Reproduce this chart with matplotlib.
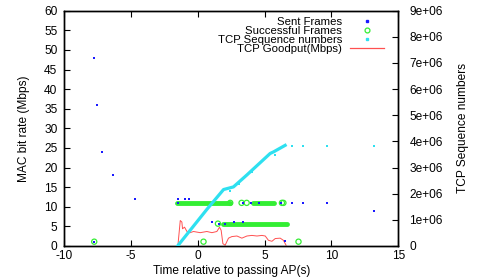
import matplotlib
matplotlib.use("Agg")
import matplotlib.pyplot as plt
from matplotlib.lines import Line2D

plt.rcParams['font.family'] = ['Liberation Sans', 'DejaVu Sans']

# ---- data ----
sent_t = [-7.76, -7.56, -7.16, -6.36, -4.72, -7.76, -1.52, -1.0, -0.7, -1.52,
          1.09, 1.6, 2.0, 2.7, 3.4, 3.4, 4.0, 4.6, 6.2, 7.04, 7.9, 9.66, 13.2, 6.53]
sent_rate = [48, 36, 24, 18, 12, 1, 12, 12, 12, 11,
             6.1, 5.7, 5.6, 6.1, 6.1, 11, 11, 11, 11, 11, 11, 11, 9.0, 1.2]

succ_t = [-7.76, 0.42, 7.53, 3.27, 3.65, 6.29, 6.4, 1.5, 2.42]
succ_rate = [1.1, 1.1, 1.1, 11, 11, 11, 11, 5.7, 11]

# dense runs of successful frames: (start, end, rate)
band_start = [-1.59, 4.16, 1.9]
band_end = [2.42, 5.66, 6.64]
band_rate = [11.0, 11.0, 5.6]

seq_t = [-1.52, 0.67, 1.92, 2.66, 3.65, 5.41, 5.66, 6.53]
seq_val = [0, 1.40e6, 2.16e6, 2.26e6, 2.71e6, 3.54e6, 3.60e6, 3.85e6]
seq_pts_t = [2.42, 3.04, 4.04, 5.76, 7.04, 7.9, 9.66, 13.2]
seq_pts_val = [2.11e6, 2.39e6, 2.83e6, 3.47e6, 3.81e6, 3.81e6, 3.81e6, 3.81e6]

good_t = [-1.5, -1.32, -1.2, -1.15, -1.0, -0.82, -0.58, -0.33, 0.17, 0.67, 1.05,
          1.42, 1.62, 1.74, 1.87, 2.04, 2.29, 2.54, 2.92, 3.29, 3.67, 4.04, 4.42,
          4.79, 5.04, 5.28, 5.54, 5.79, 6.16, 6.4, 6.6]
good_mbps = [0, 6.5, 6.1, 4.4, 4.8, 3.7, 3.4, 3.7, 3.4, 3.7, 3.4,
             3.7, 4.8, 4.0, 0.6, 0.2, 2.0, 2.4, 2.55, 2.0, 2.55, 2.7, 2.55,
             2.7, 2.55, 1.45, 1.2, 1.9, 2.0, 1.45, 0.2]

xticks = [-10, -5, 0, 5, 10, 15]
yticks = [0, 5, 10, 15, 20, 25, 30, 35, 40, 45, 50, 55, 60]
y2ticks = [0, 1e6, 2e6, 3e6, 4e6, 5e6, 6e6, 7e6, 8e6, 9e6]
y2labels = ['0', '1e+06', '2e+06', '3e+06', '4e+06', '5e+06', '6e+06', '7e+06', '8e+06', '9e+06']

# ---- colours ----
c_sent = '#1a1aff'
c_succ = '#33ee33'
c_seq = '#2ee0f0'
c_good = '#ff5050'

fs = 8.6
fs_leg = 8.2
fig = plt.figure(figsize=(4.85, 2.77), dpi=100)
ax = fig.add_axes([64.3 / 485, 31 / 277, (398.3 - 64.3) / 485, (246 - 10.7) / 277])
ax2 = ax.twinx()

# successful frames (dense bands + isolated circles)
for s, e, r in zip(band_start, band_end, band_rate):
    ax.plot([s, e], [r, r], color=c_succ, lw=3.5, solid_capstyle='round', zorder=3)
ax.scatter(succ_t, succ_rate, s=14, facecolors='none', edgecolors=c_succ, linewidths=0.9, zorder=3)

# sent frames
ax.scatter(sent_t, sent_rate, s=3, marker='s', color=c_sent, linewidths=0, zorder=4)

# goodput
ax.plot(good_t, good_mbps, color=c_good, lw=0.7, zorder=2)

# TCP sequence numbers
ax2.plot(seq_t, seq_val, color=c_seq, lw=2.3, zorder=3)
ax2.scatter(seq_pts_t, seq_pts_val, s=3, marker='s', color=c_seq, linewidths=0, zorder=3)

ax.set_xlim(-10, 15)
ax.set_ylim(0, 60)
ax2.set_ylim(0, 9e6)
ax.set_xticks(xticks)
ax.set_xticklabels([str(v) for v in xticks], fontsize=fs)
ax.set_yticks(yticks)
ax.set_yticklabels([str(v) for v in yticks], fontsize=fs)
ax2.set_yticks(y2ticks)
ax2.set_yticklabels(y2labels, fontsize=fs)

ax.tick_params(axis='x', direction='in', top=True, length=4, width=0.8, pad=3)
ax.tick_params(axis='y', direction='in', right=False, length=4, width=0.8, pad=5)
ax2.tick_params(axis='y', direction='in', length=4, width=0.8, pad=8)
for a in (ax, ax2):
    for sp in a.spines.values():
        sp.set_linewidth(1.0)

ax.set_xlabel('Time relative to passing AP(s)', fontsize=fs, labelpad=2)
ax.set_ylabel('MAC bit rate (Mbps)', fontsize=fs, labelpad=10)
ax2.set_ylabel('TCP Sequence numbers', fontsize=fs, labelpad=10)

handles = [
    Line2D([], [], ls='none', marker='s', ms=1.5, color=c_sent),
    Line2D([], [], ls='none', marker='o', ms=3.5, mfc='none', mec=c_succ, mew=0.9),
    Line2D([], [], ls='none', marker='s', ms=1.5, color=c_seq),
    Line2D([], [], color=c_good, lw=0.9),
]
labels = ['Sent Frames', 'Successful Frames', 'TCP Sequence numbers', 'TCP Goodput(Mbps)']
leg = ax.legend(handles, labels, loc='upper right', bbox_to_anchor=(1 - 14 / 334, 1 - 6 / 235),
                frameon=False, markerfirst=False, fontsize=fs_leg, handlelength=3.0,
                handletextpad=0.7, labelspacing=-0.08, borderaxespad=0, borderpad=0)
leg.set_zorder(10)

fig.savefig('out.png', dpi=100)
